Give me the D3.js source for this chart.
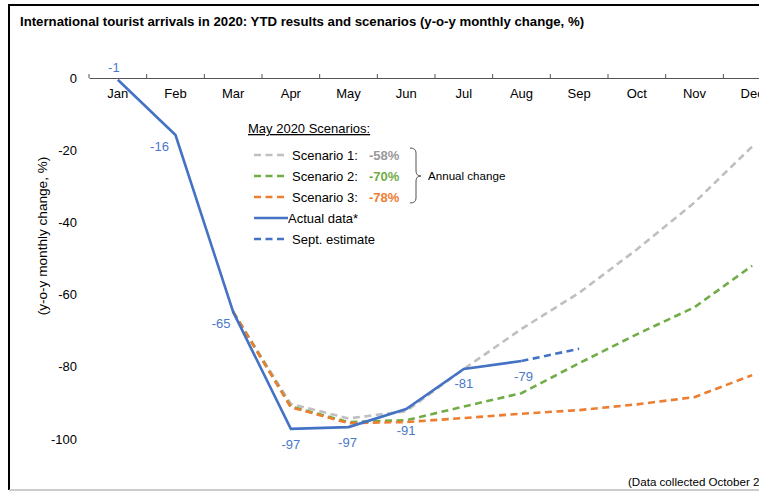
<!DOCTYPE html>
<html>
<head>
<meta charset="utf-8">
<script src="https://cdn.jsdelivr.net/npm/d3@7"></script>
<style>
body{margin:0;background:#fff;font-family:"Liberation Sans",Arial,sans-serif;}
svg text{font-family:"Liberation Sans",Arial,sans-serif;}
</style>
</head>
<body>
<div id="canvas" class="canvas" style="width:759px;height:492px;overflow:hidden"></div>
<script>
//data
var months = ['Jan','Feb','Mar','Apr','May','Jun','Jul','Aug','Sep','Oct','Nov','Dec'];
var actual = [-0.5,-15.8,-64.8,-97.2,-96.7,-91.7,-80.6,-78.4];
var actualLabels = ['-1','-16','-65','-97','-97','-91','-81','-79'];
var septEstimate = [{m:'Aug',v:-78.4},{m:'Sep',v:-75}];
var scenario1 = [-64.8,-90.3,-94.3,-92.3,-80.6,-69.5,-59.5,-47.5,-34.5,-19];
var scenario2 = [-64.8,-91,-95.3,-94.8,-91,-87.3,-79,-71,-63.5,-52];
var scenario3 = [-64.8,-91.2,-95.6,-95.3,-94.2,-93,-92,-90.4,-88.4,-82.3];
var yTicks = [0,-20,-40,-60,-80,-100];

var outerWidth = 759, outerHeight = 492;
var svg = d3.select('.canvas').append('svg')
    .attr('width',outerWidth)
    .attr('height',outerHeight);

//frame
svg.append('line').attr('x1',9).attr('x2',9).attr('y1',5).attr('y2',490).attr('stroke','#000').attr('stroke-width',2);
svg.append('line').attr('x1',8).attr('x2',outerWidth).attr('y1',5).attr('y2',5).attr('stroke','#000').attr('stroke-width',2);
svg.append('line').attr('x1',9).attr('x2',outerWidth).attr('y1',490).attr('y2',490).attr('stroke','#bbb').attr('stroke-width',1.5);

svg.append('text')
    .attr('x',20).attr('y',26)
    .attr('font-size',13.2).attr('font-weight','bold')
    .attr('fill','#000')
    .text('International tourist arrivals in 2020: YTD results and scenarios (y-o-y monthly change, %)');

var scaleX = d3.scaleBand().domain(months).range([89,781]);
var scaleY = d3.scaleLinear().domain([0,-100]).range([78,439]);
var cx = function(m){return scaleX(m)+scaleX.bandwidth()/2;};

//y axis (labels only)
var axisY = d3.axisLeft(scaleY).tickValues(yTicks).tickSize(0).tickPadding(0)
    .tickFormat(function(d){return String(d);});
var gy = svg.append('g').attr('class','axis axis-y').attr('transform','translate(77,0)').call(axisY);
gy.select('.domain').remove();
gy.selectAll('text').attr('font-size',13).attr('fill','#000');

svg.append('text')
    .attr('transform','translate(47,236) rotate(-90)')
    .attr('text-anchor','middle')
    .attr('font-size',13.6).attr('fill','#000')
    .text('(y-o-y monthly change, %)');

//x axis at 0 with ticks between months
var axisX = d3.axisBottom(scaleX).tickSize(0).tickPadding(11);
var gx = svg.append('g').attr('class','axis axis-x').attr('transform','translate(0,'+scaleY(0)+')').call(axisX);
gx.select('.domain').attr('stroke','#555').attr('stroke-width',1.2);
gx.selectAll('text').attr('font-size',13).attr('fill','#000');
var bounds = months.map(function(m){return scaleX(m);});
gx.selectAll('.bound').data(bounds).enter().append('line')
    .attr('class','bound')
    .attr('x1',function(d){return d;}).attr('x2',function(d){return d;})
    .attr('y1',-4).attr('y2',0)
    .attr('stroke','#555').attr('stroke-width',1);

var line = d3.line().x(function(d){return cx(d.m);}).y(function(d){return scaleY(d.v);});
function series(vals, start){
    return vals.map(function(v,i){return {m:months[start+i],v:v};});
}

var dash = '7,4.5';
svg.append('path').datum(series(scenario1,2)).attr('d',line)
    .attr('fill','none').attr('stroke','#BFBFBF').attr('stroke-width',2.6).attr('stroke-dasharray',dash);
svg.append('path').datum(series(scenario2,2)).attr('d',line)
    .attr('fill','none').attr('stroke','#70AD47').attr('stroke-width',2.6).attr('stroke-dasharray',dash);
svg.append('path').datum(series(scenario3,2)).attr('d',line)
    .attr('fill','none').attr('stroke','#ED7D31').attr('stroke-width',2.6).attr('stroke-dasharray',dash);
svg.append('path').datum(series(actual,0)).attr('d',line)
    .attr('fill','none').attr('stroke','#4472C4').attr('stroke-width',2.6);
svg.append('path').datum(septEstimate).attr('d',line)
    .attr('fill','none').attr('stroke','#4472C4').attr('stroke-width',2.6).attr('stroke-dasharray',dash);

//data labels
var labelOffset = [[-4,-8],[-16,16],[-12,16],[0,20],[-1,20],[0,26],[0,19],[2,20]];
svg.selectAll('.dlabel').data(series(actual,0)).enter().append('text')
    .attr('class','dlabel')
    .attr('x',function(d,i){return cx(d.m)+labelOffset[i][0];})
    .attr('y',function(d,i){return scaleY(d.v)+labelOffset[i][1];})
    .attr('text-anchor','middle')
    .attr('font-size',13).attr('fill','#4A78CC')
    .text(function(d,i){return actualLabels[i];});

//legend
var legend = svg.append('g').attr('transform','translate(248,0)');
legend.append('text').attr('x',0).attr('y',133).attr('font-size',13).attr('fill','#000')
    .attr('text-decoration','underline').text('May 2020 Scenarios:');
var legendItems = [
    {name:'Scenario 1:',val:'-58%',color:'#BFBFBF',valColor:'#999',dash:true},
    {name:'Scenario 2:',val:'-70%',color:'#70AD47',valColor:'#70AD47',dash:true},
    {name:'Scenario 3:',val:'-78%',color:'#ED7D31',valColor:'#ED7D31',dash:true},
    {name:'Actual data*',val:'',color:'#4472C4',dash:false},
    {name:'Sept. estimate',val:'',color:'#4472C4',dash:true}
];
var li = legend.selectAll('.li').data(legendItems).enter().append('g')
    .attr('class','li')
    .attr('transform',function(d,i){return 'translate(0,'+(155+i*21)+')';});
li.append('line').attr('x1',6).attr('x2',40).attr('y1',0).attr('y2',0)
    .attr('stroke',function(d){return d.color;}).attr('stroke-width',2.6)
    .attr('stroke-dasharray',function(d){return d.dash?'7,4.5':null;});
li.append('text').attr('x',function(d){return d.dash?44:40;}).attr('y',4.5).attr('font-size',13).attr('fill','#000')
    .text(function(d){return d.name;});
li.append('text').attr('x',121).attr('y',4.5).attr('font-size',13).attr('font-weight','bold')
    .attr('fill',function(d){return d.valColor;})
    .text(function(d){return d.val;});

//brace
svg.append('path')
    .attr('d','M410,148 Q416,148 416,153 L416,171 Q416,176 421,176 Q416,176 416,181 L416,198 Q416,203 410,203')
    .attr('fill','none').attr('stroke','#555').attr('stroke-width',1);
svg.append('text').attr('x',428).attr('y',180).attr('font-size',11.6).attr('fill','#000').text('Annual change');

svg.append('text').attr('x',628).attr('y',486).attr('font-size',11.6).attr('fill','#000').text('(Data collected October 2020)');
</script>
</body>
</html>
